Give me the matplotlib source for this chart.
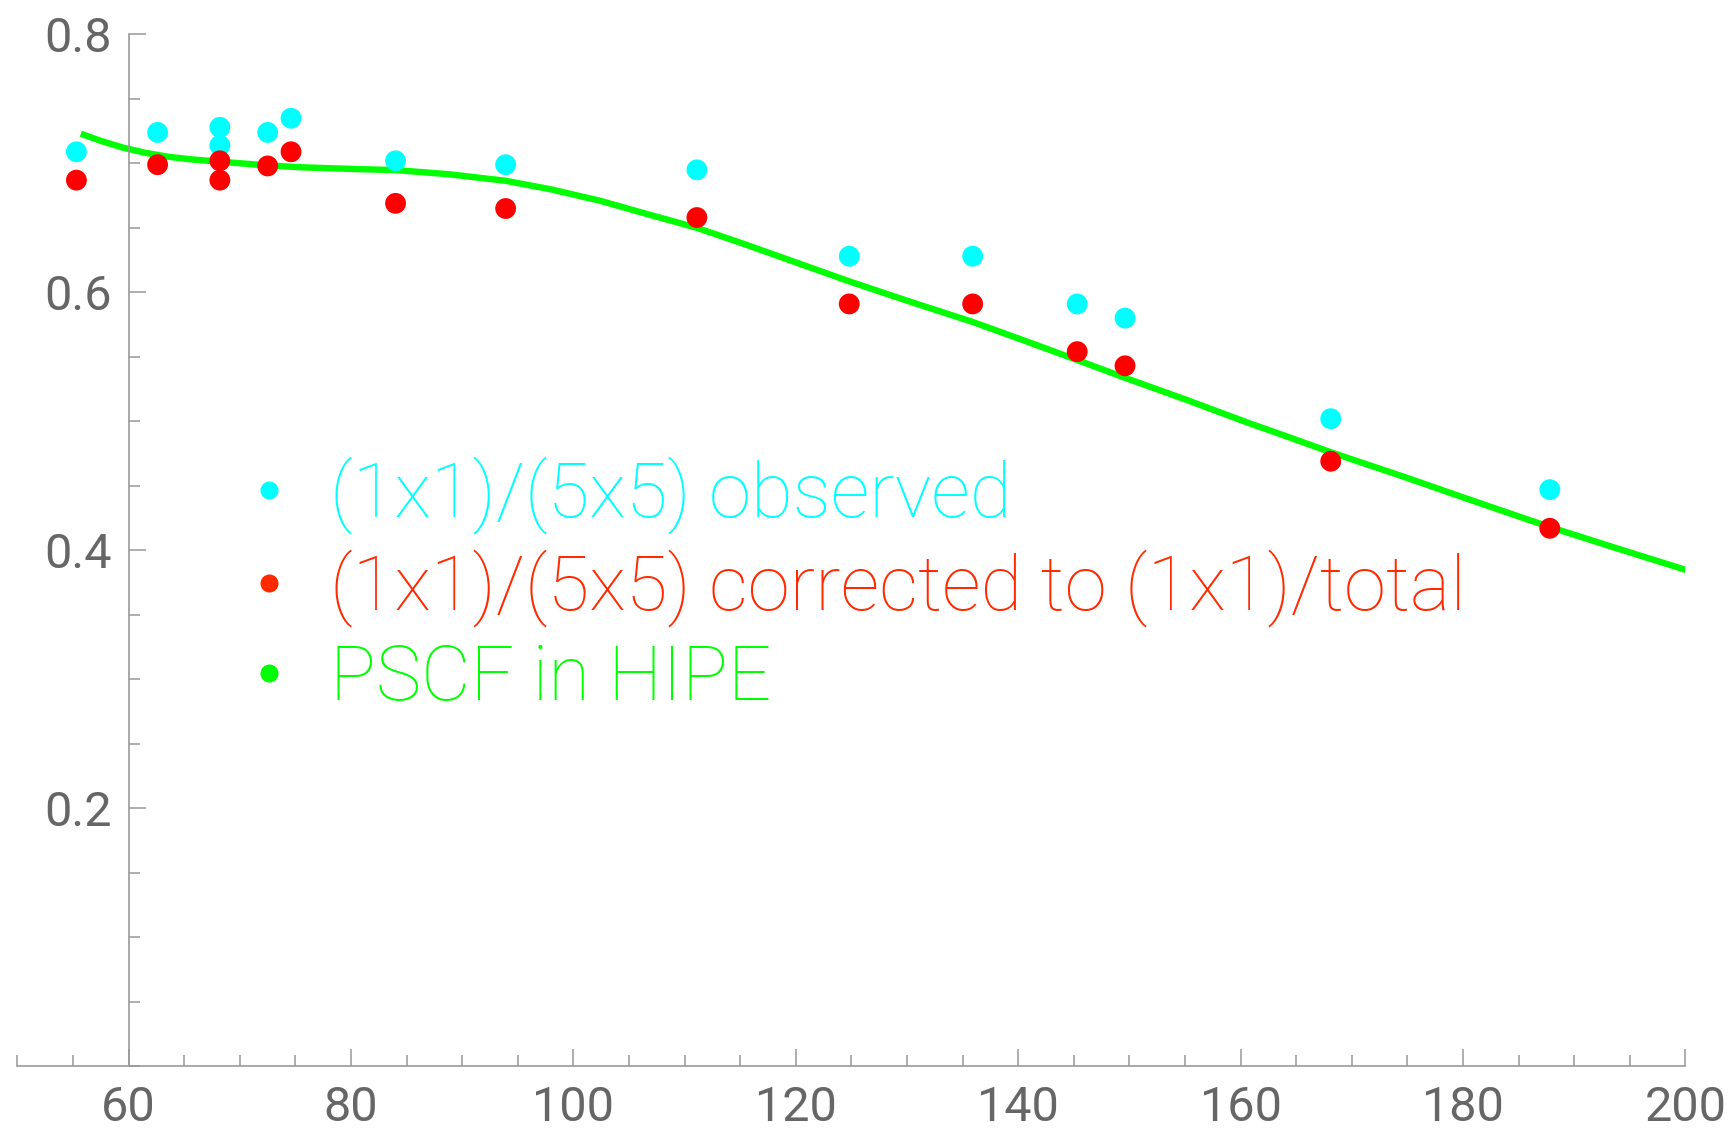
import matplotlib
matplotlib.use("Agg")
import matplotlib.pyplot as plt
from matplotlib.lines import Line2D
from matplotlib.ticker import MultipleLocator, FixedLocator, FormatStrFormatter

# Aperture ratios per band centre
wavelength = [55.3, 62.6, 68.2, 68.2, 72.5, 74.6, 84.0, 93.9, 111.1,
              124.8, 135.9, 145.3, 149.6, 168.1, 187.8]
ratio_observed = [0.709, 0.724, 0.728, 0.714, 0.724, 0.735, 0.702, 0.699, 0.695,
                  0.628, 0.628, 0.591, 0.580, 0.502, 0.447]
ratio_corrected = [0.687, 0.699, 0.702, 0.687, 0.698, 0.709, 0.669, 0.665, 0.658,
                   0.591, 0.591, 0.554, 0.543, 0.469, 0.417]

# PSCF curve from HIPE
pscf_wave = [55.7, 57.5, 59.5, 61.5, 63.5, 65.5, 68.2, 72.4, 75.4, 80.8, 84.0,
             88.9, 93.9, 97.9, 102.4, 106.5, 111.1, 115.5, 120.4, 124.8, 130.0,
             135.9, 140.5, 145.3, 149.6, 155.0, 160.8, 163.8, 168.1, 175.0,
             181.0, 187.8, 194.0, 200.3]
pscf_ratio = [0.723, 0.7174, 0.7122, 0.7082, 0.7052, 0.7032, 0.7013, 0.6985,
              0.697, 0.6955, 0.6948, 0.6915, 0.6865, 0.680, 0.671, 0.661, 0.650,
              0.637, 0.622, 0.6085, 0.5935, 0.577, 0.5627, 0.5475, 0.5337, 0.517,
              0.4984, 0.4893, 0.476, 0.456, 0.438, 0.418, 0.401, 0.384]

labels = ["(1x1)/(5x5) observed",
          "(1x1)/(5x5) corrected to (1x1)/total",
          "PSCF in HIPE"]

c_obs = "#00ffff"
c_cor = "#ff0000"
c_cor_txt = "#ff2a00"
c_pscf = "#00ff00"
axis_grey = "#999999"
label_grey = "#666666"

plt.rcParams["font.family"] = ["Roboto", "DejaVu Sans"]

fig = plt.figure(figsize=(17.31, 11.29), dpi=100)
ax = fig.add_axes([0.0101, 0.0558, 0.9636, 0.9137])

ax.plot(pscf_wave, pscf_ratio, color=c_pscf, lw=4.6, zorder=2,
        solid_capstyle="butt", solid_joinstyle="round")
ax.scatter(wavelength, ratio_observed, s=225, color=c_obs, edgecolors="none", zorder=3)
ax.scatter(wavelength, ratio_corrected, s=225, color=c_cor, edgecolors="none", zorder=4)

ax.set_xlim(50, 200)
ax.set_ylim(0, 0.8)

# axes cross at x=60, y=0
for side in ("top", "right"):
    ax.spines[side].set_visible(False)
ax.spines["left"].set_position(("data", 60))
for side in ("left", "bottom"):
    ax.spines[side].set_color(axis_grey)
    ax.spines[side].set_linewidth(1.2)

ax.xaxis.set_major_locator(MultipleLocator(20))
ax.xaxis.set_minor_locator(MultipleLocator(5))
ax.yaxis.set_major_locator(FixedLocator([0.2, 0.4, 0.6, 0.8]))
ax.yaxis.set_minor_locator(MultipleLocator(0.05))
ax.xaxis.set_major_formatter(FormatStrFormatter("%g"))
ax.yaxis.set_major_formatter(FormatStrFormatter("%g"))

ax.tick_params(which="both", direction="in", color=axis_grey, width=1.1)
ax.tick_params(which="major", length=12.5, labelsize=35, labelcolor=label_grey)
ax.tick_params(which="minor", length=8)
ax.tick_params(axis="x", which="major", pad=14)
ax.tick_params(axis="y", which="major", pad=12)

handles = [Line2D([], [], ls="none", marker="o", ms=13, mfc=c_obs, mec="none"),
           Line2D([], [], ls="none", marker="o", ms=13, mfc=c_cor_txt, mec="none"),
           Line2D([], [], ls="none", marker="o", ms=13, mfc=c_pscf, mec="none")]
leg = ax.legend(handles, labels, loc="upper left", bbox_to_anchor=(0.1395, 0.591),
                frameon=False, borderaxespad=0, borderpad=0, handlelength=0.5,
                handletextpad=0.55, labelspacing=0.2,
                labelcolor=[c_obs, c_cor_txt, c_pscf],
                prop={"family": ["Roboto", "DejaVu Sans"], "weight": "light", "size": 55})

fig.savefig("out.png", dpi=100, facecolor="white")
